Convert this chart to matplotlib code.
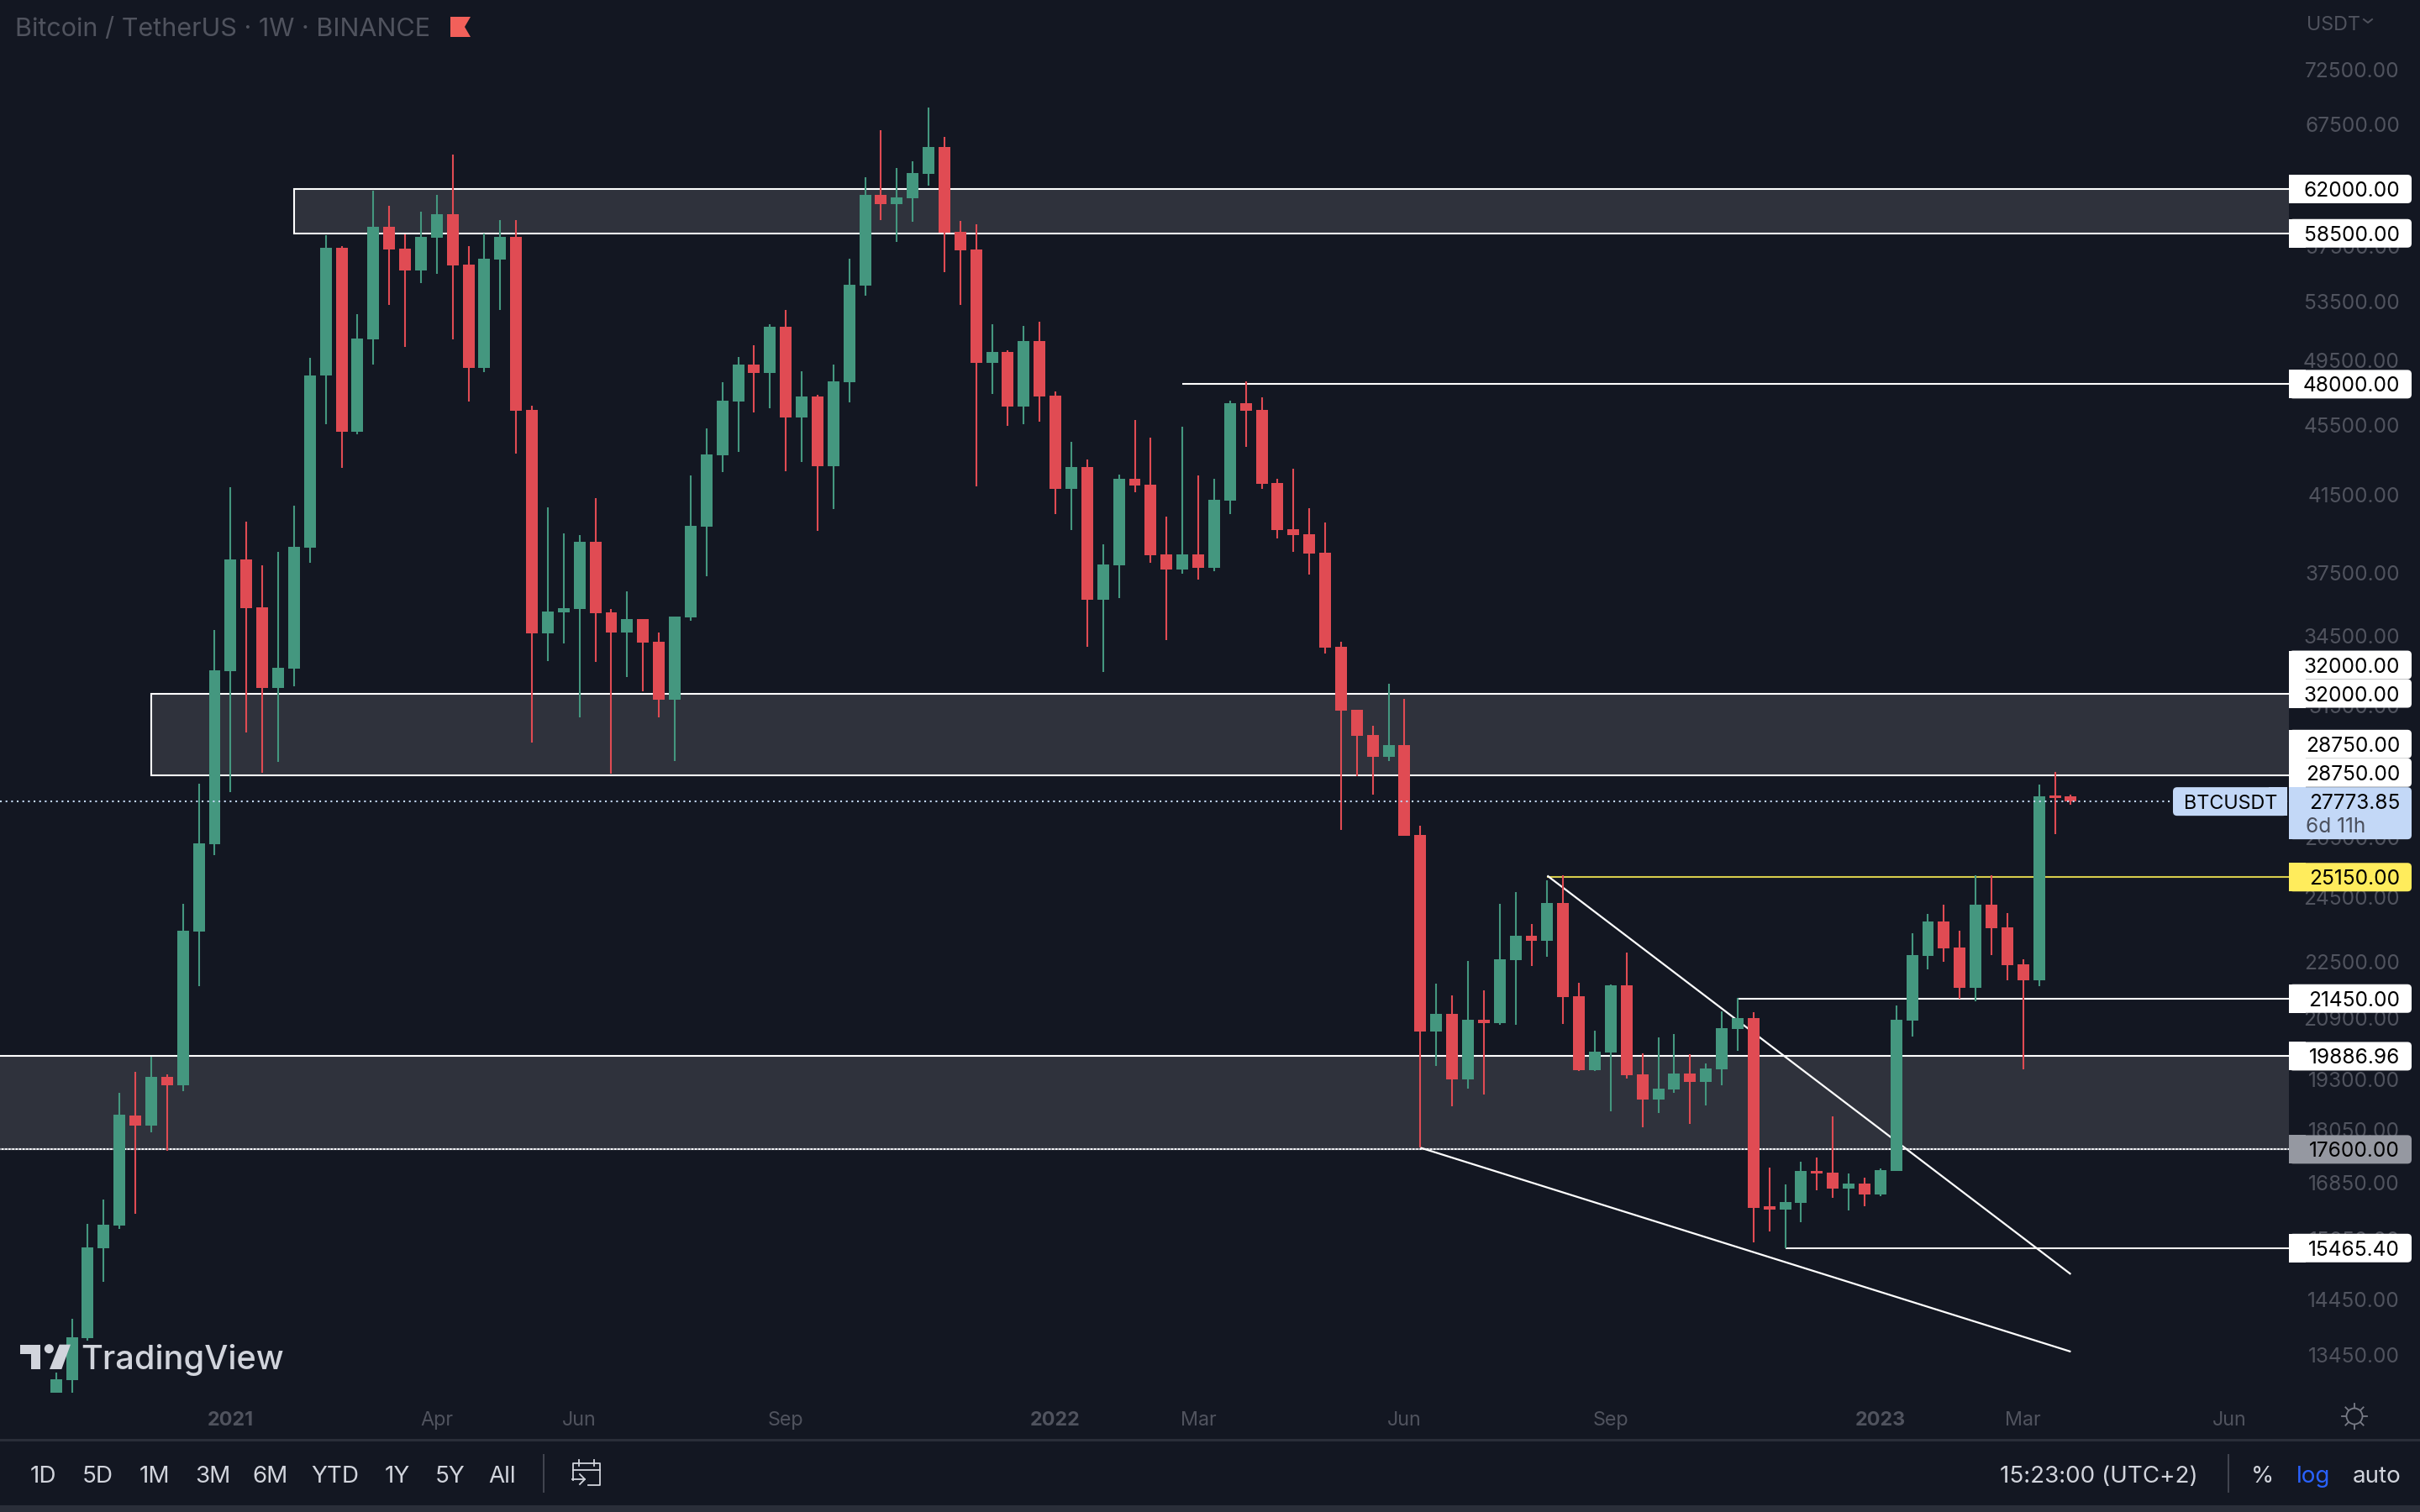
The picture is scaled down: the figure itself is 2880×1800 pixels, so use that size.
import matplotlib
matplotlib.use('Agg')
import matplotlib.pyplot as plt
from matplotlib.patches import Rectangle, FancyBboxPatch, Polygon, Circle
from matplotlib.ticker import NullLocator
import numpy as np

plt.rcParams['font.family'] = ['Inter', 'DejaVu Sans']

# weekly candles
opens = [12792, 13009, 13745, 15465, 15931, 18408, 18162, 19362, 19148, 23423, 26264, 32949, 38158, 35838, 32241, 33061,
         38741, 48555, 57408, 45112, 50912, 59025, 57344, 55739, 58186, 59994, 56167, 49049, 56534, 58250, 46420, 34626,
         35600, 35759, 39044, 35600, 34663, 35287, 34253, 31749, 35365, 39834, 43738, 46939, 49268, 48721, 51768, 45955,
         47250, 43113, 48133, 54639, 61545, 60795, 61273, 63253, 65535, 58637, 57279, 49378, 50090, 46628, 50802, 47302,
         41836, 43066, 36192, 37867, 42415, 42090, 38408, 37659, 38408, 37742, 41208, 46836, 46420, 42183, 39704, 39440,
         38491, 34029, 31326, 30314, 29448, 29914, 26584, 20549, 21026, 19299, 20867, 20776, 22561, 23297, 23145, 24320,
         21520, 19534, 19985, 21832, 19426, 18793, 19040, 19448, 19234, 19556, 20617, 20913, 16342, 16269, 16415, 17112,
         17074, 16724, 16833, 16597, 17112, 20844, 22688, 23731, 22943, 21760, 24266, 23550, 22435, 21976, 27995, 27963]
highs = [13141, 14101, 15966, 16487, 18956, 19491, 19878, 19426, 24293, 28437, 34775, 41950, 40098, 37867, 38533, 40934,
         49706, 58379, 57537, 52637, 61887, 60658, 58444, 60188, 61545, 64885, 57537, 58508, 59542, 59542, 46679, 40846,
         39484, 39396, 41347, 35759, 36586, 35287, 34663, 35405, 42601, 45308, 48133, 49761, 50528, 51942, 52927, 48830,
         47354, 49268, 56595, 62980, 66979, 63731, 64309, 69018, 66401, 59478, 59219, 51942, 50199, 51826, 52116, 47562,
         44522, 43492, 38912, 42648, 45799, 44768, 40362, 45406, 42601, 42415, 46990, 48184, 47198, 42415, 42973, 40802,
         40054, 34253, 31326, 30681, 32418, 31784, 26913, 21880, 21545, 22536, 21688, 24293, 24668, 23651, 25047, 25216,
         21904, 20572, 21856, 22789, 19964, 20390, 20481, 19942, 19706, 21094, 21472, 21071, 17189, 16815, 17325, 17421,
         18385, 17055, 16961, 17170, 21257, 23373, 23972, 24266, 23449, 25216, 25216, 23999, 22586, 28406, 28880, 28026]
lows = [12792, 12792, 13699, 14800, 15862, 16178, 17999, 17575, 18997, 21808, 25896, 28121, 30414, 28848, 29259, 32312,
        37992, 45553, 43020, 44964, 49268, 53274, 50419, 54823, 55494, 50912, 46939, 48775, 52927, 43810, 30013, 33395,
        34178, 31015, 33358, 28816, 32700, 32100, 31015, 29290, 35208, 37327, 42787, 43934, 46266, 46526, 42833, 43345,
        39616, 40758, 46888, 53911, 59542, 57860, 59413, 62297, 55616, 53274, 41997, 47378, 45455, 45553, 45701, 40494,
        39660, 34029, 32912, 36271, 41671, 37992, 34327, 37451, 37160, 37576, 40494, 44229, 41857, 39220, 38533, 37410,
        33731, 26764, 28722, 28026, 29290, 26555, 17652, 19642, 18631, 19062, 18915, 20731, 20731, 22384, 22662, 20754,
        19513, 19513, 18509, 19319, 18121, 18468, 18956, 18199, 18651, 19148, 20028, 15586, 15811, 15465, 16000, 16688,
        16524, 16250, 16341, 16560, 17112, 20413, 22288, 22511, 21448, 21376, 22713, 21976, 19556, 21808, 26614, 27661]
closes = [13024, 13760, 15482, 15948, 18428, 18162, 19362, 19148, 23449, 26292, 32985, 38158, 35798, 32241, 33098, 38782,
          48555, 57408, 45112, 50967, 59025, 57279, 55739, 58250, 59994, 56106, 49049, 56595, 58250, 46370, 34626, 35641,
          35798, 39044, 35563, 34663, 35287, 34215, 31749, 35405, 39878, 43787, 46990, 49268, 48721, 51768, 45955, 47250,
          43113, 48184, 54700, 61545, 60795, 61341, 63321, 65535, 58573, 57214, 49378, 50090, 46628, 50802, 47250, 41836,
          43066, 36192, 37909, 42415, 42043, 38366, 37659, 38408, 37742, 41254, 46836, 46370, 42136, 39660, 39396, 38450,
          33992, 31290, 30281, 29448, 29914, 26555, 20549, 21026, 19299, 20867, 20776, 22586, 23297, 23145, 24320, 21496,
          19534, 20007, 21832, 19405, 18793, 19062, 19448, 19234, 19577, 20640, 20913, 16305, 16269, 16433, 17112, 17055,
          16724, 16833, 16597, 17132, 20867, 22713, 23731, 22917, 21760, 24266, 23524, 22409, 21976, 27963, 27900, 27773.85]

last_price = 27773.85

# price axis ticks and time axis
price_ticks = [72500, 67500, 57500, 53500, 49500, 45500, 41500, 37500, 34500, 31500, 26500, 24500, 22500,
               20900, 19300, 18050, 16850, 15650, 14450, 13450]
time_pos = [11, 24, 33, 46, 63, 72, 85, 98, 115, 124, 137]
time_labels = ['2021', 'Apr', 'Jun', 'Sep', '2022', 'Mar', 'Jun', 'Sep', '2023', 'Mar', 'Jun']

# drawn zones: start candle, low, high
zone_start = [15, 6, -10]
zone_low = [58500, 28750, 17600]
zone_high = [62000, 32000, 19886.96]

# horizontal rays: start candle, price, colour
ray_start = [71, 94, 106, 109]
ray_price = [48000, 25150, 21450, 15465.40]
ray_color = ['white', '#d8cd4c', 'white', '#eeeeee']

# trend lines
trend_x = [[94, 127], [86, 127]]
trend_y = [[25200, 14944], [17640, 13501]]

bg = '#131722'
green = '#44977f'
red = '#e04b53'
grey = '#50535e'
light = '#d1d4dc'
price_fs = 17.6

fig = plt.figure(figsize=(28.8, 18), dpi=100, facecolor=bg)
ax = fig.add_axes([0, 1 - 1665 / 1800, 2724 / 2880, 1665 / 1800], facecolor=bg)
ax.set_yscale('log')
ax.set_xlim(-3.533, 140.75)
ax.set_ylim(12695, 79434)
ax.yaxis.set_major_locator(NullLocator())
ax.yaxis.set_minor_locator(NullLocator())
for s in ax.spines.values():
    s.set_visible(False)

ax.set_xticks(time_pos)
ax.set_xticklabels(time_labels)
ax.tick_params(axis='x', length=0, pad=10.5, labelsize=16.8, labelcolor=grey)
for lab in ax.get_xticklabels():
    if lab.get_text().startswith('20'):
        lab.set_fontweight('bold')

# zones under everything
for x0, lo, hi in zip(zone_start, zone_low, zone_high):
    ax.add_patch(Rectangle((x0, lo), 160, hi - lo, facecolor='#2f323c', edgecolor='white', linewidth=1.5, zorder=1))
ax.axhline(17600, color='#9598a1', lw=1.5, ls=(0, (1, 1)), zorder=1.5)

for x0, p, c in zip(ray_start, ray_price, ray_color):
    ax.hlines(p, x0, 160, color=c, lw=1.5, zorder=2)
for tx, ty in zip(trend_x, trend_y):
    ax.plot(tx, ty, color='white', lw=1.6, zorder=2, solid_capstyle='butt')

# candles
idx = np.arange(len(opens))
o = np.array(opens, dtype=float)
c = np.array(closes, dtype=float)
cols = [green if cl >= op else red for op, cl in zip(o, c)]
ax.vlines(idx, lows, highs, colors=cols, lw=1.5, zorder=5)
ax.bar(idx, np.abs(c - o), bottom=np.minimum(o, c), width=0.74, color=cols, linewidth=0, zorder=6)

ax.axhline(last_price, color='#c3d8f7', lw=1.5, ls=(0, (1, 2.2)), zorder=7)

# overlay in pixel coordinates for the chrome around the chart
ov = fig.add_axes([0, 0, 1, 1])
ov.set_xlim(0, 2880)
ov.set_ylim(1800, 0)
ov.axis('off')


def price_y(p):
    return 1800 - ax.transData.transform((0, p))[1]


def price_label(text, cy, fill='white', h=34, col='black'):
    top = cy - 17
    ov.add_patch(FancyBboxPatch((2724, top), 146, h, boxstyle='round,pad=0,rounding_size=5', fc=fill, ec='none', zorder=3))
    ov.add_patch(Rectangle((2724, top), 20, h, fc=fill, ec='none', zorder=3))
    ov.text(2856, cy, text, ha='right', va='center_baseline', fontsize=price_fs, color=col, zorder=4)


ov.add_patch(Rectangle((2724, 0), 156, 1715, fc=bg, ec='none', zorder=1))
for p in price_ticks:
    ov.text(2856, price_y(p), '%.2f' % p, ha='right', va='center_baseline', fontsize=price_fs, color=grey, zorder=2)

price_label('62000.00', price_y(62000))
price_label('58500.00', price_y(58500))
price_label('48000.00', price_y(48000))
price_label('32000.00', price_y(32000) - 34)
price_label('32000.00', price_y(32000))
price_label('28750.00', price_y(28750) - 37)
price_label('28750.00', price_y(28750) - 3)
price_label('25150.00', price_y(25150), fill='#ffec5c')
price_label('21450.00', price_y(21450))
price_label('19886.96', price_y(19886.96))
price_label('17600.00', price_y(17600), fill='#9598a1')
price_label('15465.40', price_y(15465.40))

# last price tag, two lines tall
ly = price_y(last_price)
ov.add_patch(FancyBboxPatch((2724, ly - 17), 146, 62, boxstyle='round,pad=0,rounding_size=5', fc='#c3d8f7', ec='none', zorder=3))
ov.add_patch(Rectangle((2724, ly - 17), 20, 62, fc='#c3d8f7', ec='none', zorder=3))
ov.text(2856, ly, '27773.85', ha='right', va='center_baseline', fontsize=price_fs, color='black', zorder=4)
ov.text(2744, ly + 28, '6d 11h', ha='left', va='center_baseline', fontsize=price_fs, color='#4a4f5c', zorder=4)
ov.add_patch(FancyBboxPatch((2586, ly - 17), 136, 34, boxstyle='round,pad=0,rounding_size=5', fc='#c3d8f7', ec='none', zorder=3))
ov.add_patch(Rectangle((2700, ly - 17), 22, 34, fc='#c3d8f7', ec='none', zorder=3))
ov.text(2655, ly, 'BTCUSDT', ha='center', va='center_baseline', fontsize=16.8, color='black', zorder=4)

ov.text(2745, 27, 'USDT', ha='left', va='center_baseline', fontsize=16.8, color=grey)
ov.plot([2813, 2818, 2823], [23, 27, 23], color=grey, lw=1.4)

# header
ov.text(18, 32, 'Bitcoin / TetherUS · 1W · BINANCE', ha='left', va='center_baseline', fontsize=22, color=grey)
ov.add_patch(Polygon([(536, 20), (560, 20), (553, 32), (560, 44), (536, 44)], fc='#f2605a', ec='none'))

# logo
logo = '#d1d4dc'
T = [(42, 62), (113, 62), (113, 150), (82, 150), (82, 95), (42, 95)]
slash = [(182, 62), (222, 62), (190, 150), (147, 150)]
ov.add_patch(Polygon([(10 + a / 3, 1580 + b / 3) for a, b in T], fc=logo, ec='none', zorder=8))
ov.add_patch(Polygon([(10 + a / 3, 1580 + b / 3) for a, b in slash], fc=logo, ec='none', zorder=8))
ov.add_patch(Circle((10 + 145 / 3, 1580 + 77 / 3), 5.5, fc=logo, ec='none', zorder=8))
ov.text(96, 1630, 'TradingView', ha='left', va='baseline', fontsize=28.6, fontweight='medium', color=logo, zorder=8)

# bottom toolbar
ov.add_patch(Rectangle((0, 1713), 2880, 3, fc='#2a2e39', ec='none'))
ov.add_patch(Rectangle((0, 1792), 2880, 8, fc='#2a2e39', ec='none'))
range_x = [51, 116, 184, 253, 322, 399, 473, 536, 598]
range_labels = ['1D', '5D', '1M', '3M', '6M', 'YTD', '1Y', '5Y', 'All']
for x, t in zip(range_x, range_labels):
    ov.text(x, 1755, t, ha='center', va='center_baseline', fontsize=20, color=light)
ov.plot([647, 647], [1732, 1776], color='#434651', lw=1.4)
ov.plot([2652, 2652], [1732, 1776], color='#434651', lw=1.4)
ov.text(2498, 1755, '15:23:00 (UTC+2)', ha='center', va='center_baseline', fontsize=20, color=light)
ov.text(2692, 1755, '%', ha='center', va='center_baseline', fontsize=20, color=light)
ov.text(2753, 1755, 'log', ha='center', va='center_baseline', fontsize=20, color='#2962ff')
ov.text(2829, 1755, 'auto', ha='center', va='center_baseline', fontsize=20, color=light)

# calendar icon
ov.plot([682, 682, 714, 714, 700], [1762, 1742, 1742, 1768, 1768], color=light, lw=1.3)
ov.plot([682, 714], [1750, 1750], color=light, lw=1.3)
ov.plot([689, 689], [1738, 1745], color=light, lw=1.3)
ov.plot([707, 707], [1738, 1745], color=light, lw=1.3)
ov.plot([681, 696], [1761, 1761], color=light, lw=1.3)
ov.plot([690, 696, 690], [1755, 1761, 1767], color=light, lw=1.3)

# theme icon
ov.add_patch(Circle((2802, 1686), 9.5, fc='none', ec='#787b86', lw=1.3))
for a in np.arange(8) * np.pi / 4:
    ov.plot([2802 + 10 * np.cos(a), 2802 + 15 * np.cos(a)], [1686 + 10 * np.sin(a), 1686 + 15 * np.sin(a)], color='#787b86', lw=1.3)

fig.savefig('out.png', dpi=100, facecolor=bg)
